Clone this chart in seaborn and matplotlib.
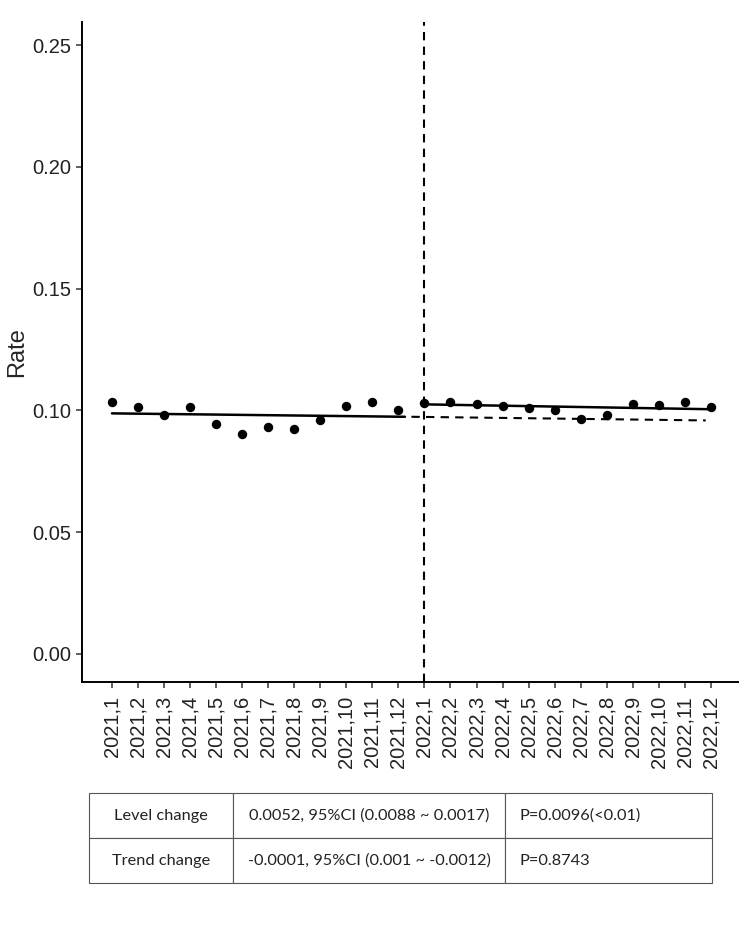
import matplotlib
matplotlib.use("Agg")
import matplotlib.pyplot as plt
import pandas as pd
import seaborn as sns

# month labels on the x axis
month_labels = [f"{year},{month}" for year in (2021, 2022) for month in range(1, 13)]

# observed monthly rates
rate_2021 = [0.1034, 0.1015, 0.0982, 0.1015, 0.0945, 0.0902,
             0.0933, 0.0924, 0.0962, 0.1019, 0.1034, 0.1002]
rate_2022 = [0.1032, 0.1034, 0.1027, 0.1019, 0.1009, 0.1002,
             0.0966, 0.0980, 0.1026, 0.1021, 0.1034, 0.1015]

# fitted segments (endpoints)
pre_fit_x = [0, 11.25]
pre_fit_y = [0.0988, 0.0974]
post_fit_x = [12, 23]
post_fit_y = [0.1025, 0.1005]
cf_fit_x = [11.5, 22.8]
cf_fit_y = [0.0974, 0.0959]

# results table
table_rows = [
    ["Level change", "0.0052, 95%CI (0.0088 ~ 0.0017)", "P=0.0096(<0.01)"],
    ["Trend change", "-0.0001, 95%CI (0.001 ~ -0.0012)", "P=0.8743"],
]

df = pd.DataFrame({
    "idx": range(len(month_labels)),
    "label": month_labels,
    "rate": rate_2021 + rate_2022,
})

sns.set_style("ticks")
plt.rcParams["font.family"] = ["Liberation Sans", "DejaVu Sans"]

W, H = 750, 938
fig = plt.figure(figsize=(W / 100, H / 100), dpi=100)
ax = fig.add_axes([82 / W, 1 - 682 / H, (738 - 82) / W, (682 - 22) / H])

sns.scatterplot(data=df, x="idx", y="rate", color="black", s=46, linewidth=0, ax=ax, zorder=3)
sns.lineplot(x=pre_fit_x, y=pre_fit_y, color="black", linewidth=1.8, ax=ax)
sns.lineplot(x=post_fit_x, y=post_fit_y, color="black", linewidth=1.8, ax=ax)
ax.plot(cf_fit_x, cf_fit_y, color="black", linewidth=1.5, linestyle=(0, (4, 3)))
ax.axvline(12, color="black", linewidth=1.5, linestyle=(0, (4, 3)))

ax.set_xlim(-1.15, 24.04)
ax.set_ylim(-0.0115, 0.2595)
ax.set_yticks([0.0, 0.05, 0.10, 0.15, 0.20, 0.25])
ax.set_yticklabels(["0.00", "0.05", "0.10", "0.15", "0.20", "0.25"])
ax.set_xticks(df["idx"])
ax.set_xticklabels(df["label"], rotation=90)
ax.set_xlabel(None)
ax.set_ylabel("Rate", fontsize=17, labelpad=3)
ax.tick_params(axis="both", labelsize=14.5, length=4, width=1.1, color="#333333", labelcolor="#222222")
ax.tick_params(axis="x", pad=6)

sns.despine(ax=ax)
for side in ("left", "bottom"):
    ax.spines[side].set_linewidth(1.4)
    ax.spines[side].set_color("black")

# table below the chart
tax = fig.add_axes([89 / W, 1 - 883 / H, (712 - 89) / W, (883 - 793) / H])
tax.axis("off")
col_w = [233 - 89, 505 - 233, 712 - 505]
total = sum(col_w)
tbl = tax.table(cellText=table_rows, colWidths=[c / total for c in col_w],
                cellLoc="center", bbox=[0, 0, 1, 1])
tbl.auto_set_font_size(False)
tbl.set_fontsize(11.8)
for (r, c), cell in tbl.get_celld().items():
    cell.set_edgecolor("#555555")
    cell.set_linewidth(0.8)
    cell.get_text().set_fontfamily(["Lato", "DejaVu Sans"])
    cell.get_text().set_color("#222222")
    if c == 2:
        cell.get_text().set_horizontalalignment("left")
        cell.PAD = 0.07

fig.savefig("out.png", dpi=100)
